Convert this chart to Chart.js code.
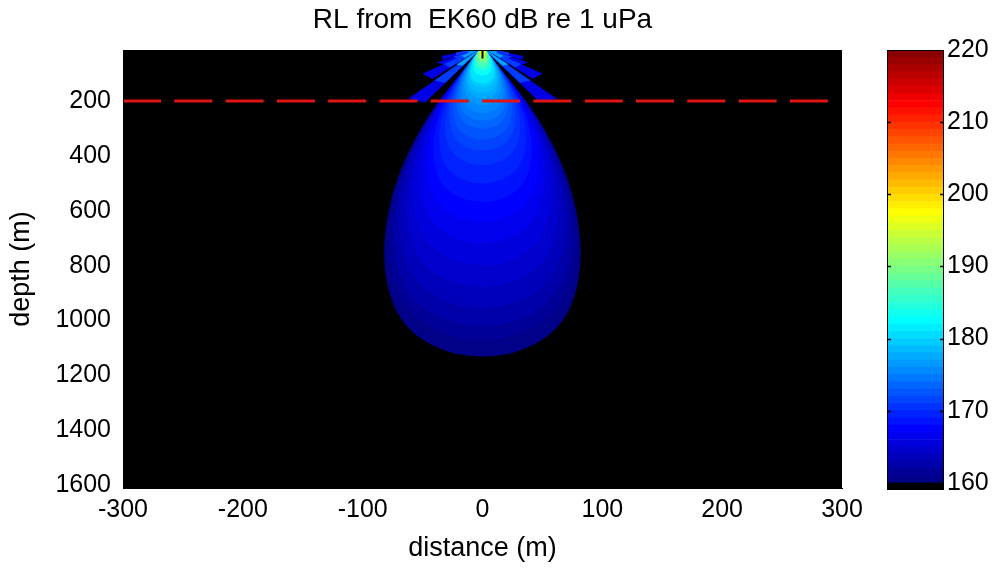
<!DOCTYPE html>
<html>
<head>
<meta charset="utf-8">
<script src="https://cdn.jsdelivr.net/npm/chart.js@4.4.1/dist/chart.umd.min.js"></script>
<style>
  body { margin: 0; background: #fff; }
  #wrap { position: relative; width: 1000px; height: 568px; }
  #main { position: absolute; left: 0; top: 0; }
  #cbar { position: absolute; left: 860px; top: 0; }
</style>
</head>
<body>
<div id="wrap">
  <canvas id="main" width="964" height="568"></canvas>
  <canvas id="cbar" width="140" height="568"></canvas>
</div>
<script>
// tick labels
const xTicks = [-300, -200, -100, 0, 100, 200, 300]
const depthTicks = [200, 400, 600, 800, 1000, 1200, 1400, 1600]
const cbarTicks = [160, 170, 180, 190, 200, 210, 220]

// outline of the main lobe (right half, mirrored for the left)
const lobeX     = [0, 8, 16, 28.5, 39.6, 53.5, 64.7, 73, 78.6, 81.3, 81.9, 80, 76, 70, 61, 49, 34, 18, 0]
const lobeDepth = [0, 50, 110, 160, 220, 318, 415, 512, 609, 694, 767, 852, 920, 978, 1030, 1072, 1104, 1124, 1131]

// RL bands (dB) and how deep each band reaches on the beam axis
const levels     = [160.5, 161.5, 162.5, 163.5, 164.5, 165.5, 166.5, 167.5, 168.5, 169.5, 170.5, 171.5,
    172.5, 173.5, 174.5, 175.5, 176.5, 177.5, 178.5, 179.5, 181, 183, 185, 187, 189, 191.5, 194.5, 198]
const levelDepth = [1131, 1070, 1020, 955, 878, 798, 718, 640, 567, 500, 433, 380,
    340, 300, 271, 243, 214, 190, 170, 150, 136, 107, 88, 73, 60, 50, 37, 28]

// side lobes (right half, mirrored), two far corners of each ray
const sideX1 = [48, 42, 30, 33]
const sideD1 = [205, 120, 72, 50]
const sideX2 = [62, 50, 38, 34]
const sideD2 = [192, 100, 60, 36]
const sideLevels = [166, 171, 177]
const sideReach  = [1, 0.65, 0.35]

const cutDepth = 200
const nearFieldDepth = 45

// colorbar bins
const cbarEdges = [159, 160, 161, 162, 163, 164, 165, 166, 167, 168, 169, 170, 171, 172, 173, 174, 175,
    176, 177, 178, 179, 180, 181, 182, 183, 184, 185, 186, 187, 188, 189, 190, 191, 192, 193, 194,
    195, 196, 197, 198, 199, 200, 201, 202, 203, 204, 205, 206, 207, 208, 209, 210, 211, 212, 213,
    214, 215, 216, 217, 218, 219, 220]

const FONT = "'Liberation Sans', Arial, sans-serif"

function jet(v) {
    const t = Math.min(1, Math.max(0, (v - 160) / 60))
    const c = k => Math.round(255 * Math.min(1, Math.max(0, 1.5 - Math.abs(4 * t - k))))
    return 'rgb(' + c(3) + ',' + c(2) + ',' + c(1) + ')'
}

function polygon(points, color, tension) {
    return {
        data: points,
        backgroundColor: color,
        borderColor: 'transparent',
        borderWidth: 0,
        pointRadius: 0,
        tension: tension,
        fill: 'shape'
    }
}

function lobeShape(depth) {
    const s = depth / lobeDepth[lobeDepth.length - 1]
    let pts = []
    for (let i = 0; i < lobeX.length; i++) pts.push({x: lobeX[i] * s, y: lobeDepth[i] * s})
    for (let i = lobeX.length - 2; i > 0; i--) pts.push({x: -lobeX[i] * s, y: lobeDepth[i] * s})
    return pts
}

function buildDatasets() {
    let list = []
    // side lobes
    sideLevels.forEach((lev, k) => {
        const r = sideReach[k]
        for (let i = 0; i < sideX1.length; i++) {
            [1, -1].forEach(sign => {
                list.push(polygon([
                    {x: 0, y: 5},
                    {x: sign * sideX1[i] * r, y: sideD1[i] * r},
                    {x: sign * sideX2[i] * r, y: sideD2[i] * r}
                ], jet(lev), 0))
            })
        }
    })
    // main lobe, outer band first
    levels.forEach((lev, i) => list.push(polygon(lobeShape(levelDepth[i]), jet(lev), 0.4)))
    // near field
    list.push({data: [{x: 0, y: 0}, {x: 0, y: nearFieldDepth}], borderColor: '#000', borderWidth: 2, pointRadius: 0, fill: false})
    // dashed line
    list.push({data: [{x: -300, y: cutDepth}, {x: 300, y: cutDepth}], borderColor: 'rgb(225,20,20)', borderWidth: 3,
        borderDash: [38, 13.3], pointRadius: 0, fill: false})
    list.forEach((d, i) => d.order = list.length - i)
    return list
}

const blackArea = {
    id: 'blackArea',
    beforeDatasetsDraw(chart) {
        const a = chart.chartArea
        chart.ctx.save()
        chart.ctx.fillStyle = '#000'
        chart.ctx.fillRect(a.left, a.top, a.right - a.left, a.bottom - a.top)
        chart.ctx.restore()
    }
}

const frame = {
    id: 'frame',
    afterDatasetsDraw(chart) {
        const a = chart.chartArea
        chart.ctx.save()
        chart.ctx.strokeStyle = '#000'
        chart.ctx.lineWidth = 1
        chart.ctx.strokeRect(a.left + 0.5, a.top + 0.5, a.right - a.left - 1, a.bottom - a.top - 1)
        chart.ctx.restore()
    }
}

// matlab style ticks on the inside of the colorbar
const innerTicks = {
    id: 'innerTicks',
    afterDatasetsDraw(chart) {
        const a = chart.chartArea
        const ctx = chart.ctx
        ctx.save()
        ctx.strokeStyle = '#000'
        ctx.lineWidth = 1.5
        cbarTicks.slice(1, -1).forEach(v => {
            const y = Math.round(chart.scales.y.getPixelForValue(v)) + 0.5
            ctx.beginPath()
            ctx.moveTo(a.left, y); ctx.lineTo(a.left + 4, y)
            ctx.moveTo(a.right - 4, y); ctx.lineTo(a.right, y)
            ctx.stroke()
        })
        ctx.restore()
    }
}

const plain = v => String(v)

function renderMain() {
    const ctx = document.querySelector('#main').getContext('2d')
    new Chart(ctx, {
        type: 'line',
        data: {datasets: buildDatasets()},
        options: {
            responsive: false,
            animation: false,
            layout: {padding: {left: 0, right: 122, top: 0, bottom: 0}},
            plugins: {
                legend: {display: false},
                tooltip: {enabled: false},
                title: {
                    display: true,
                    fullSize: false,
                    text: 'RL from  EK60 dB re 1 uPa',
                    color: '#000',
                    font: {family: FONT, size: 28, weight: 'normal'},
                    padding: {top: 3, bottom: 13.4}
                }
            },
            scales: {
                x: {
                    type: 'linear',
                    min: -300, max: 300,
                    afterBuildTicks: s => { s.ticks = xTicks.map(v => ({value: v})) },
                    afterFit: s => { s.height = 80 },
                    grid: {display: false, drawTicks: false},
                    border: {display: true, color: '#000'},
                    ticks: {color: '#000', font: {family: FONT, size: 25}, padding: 7, maxRotation: 0, autoSkip: false, callback: plain},
                    title: {display: true, text: 'distance (m)', color: '#000', font: {family: FONT, size: 27}, padding: {top: 0, bottom: 3}}
                },
                y: {
                    type: 'linear',
                    reverse: true,
                    min: 14, max: 1610,
                    afterBuildTicks: s => { s.ticks = depthTicks.map(v => ({value: v})) },
                    afterFit: s => { s.width = 123 },
                    grid: {display: false, drawTicks: false},
                    border: {display: true, color: '#000'},
                    ticks: {color: '#000', font: {family: FONT, size: 25}, padding: 12, autoSkip: false, callback: plain},
                    title: {display: true, text: 'depth (m)', color: '#000', font: {family: FONT, size: 27}, padding: {top: 5, bottom: 0}}
                }
            }
        },
        plugins: [blackArea, frame]
    })
}

function renderColorbar() {
    const ctx = document.querySelector('#cbar').getContext('2d')
    let datasets = []
    for (let i = 0; i < cbarEdges.length - 1; i++) {
        const lo = cbarEdges[i], hi = cbarEdges[i + 1]
        datasets.push({
            data: [[lo, hi]],
            backgroundColor: lo < 160 ? '#000' : jet((lo + hi) / 2),
            borderWidth: 0,
            barPercentage: 1,
            categoryPercentage: 1,
            grouped: false
        })
    }
    new Chart(ctx, {
        type: 'bar',
        data: {labels: ['RL'], datasets: datasets},
        options: {
            responsive: false,
            animation: false,
            layout: {padding: {left: 27, right: 0, top: 50, bottom: 78}},
            plugins: {legend: {display: false}, tooltip: {enabled: false}},
            scales: {
                x: {display: false},
                y: {
                    position: 'right',
                    min: 159, max: 220,
                    afterBuildTicks: s => { s.ticks = cbarTicks.map(v => ({value: v})) },
                    afterFit: s => { s.width = 56 },
                    grid: {display: false, drawTicks: false},
                    border: {display: false},
                    ticks: {color: '#000', font: {family: FONT, size: 25}, padding: 3, autoSkip: false, callback: plain}
                }
            }
        },
        plugins: [frame, innerTicks]
    })
}

renderMain()
renderColorbar()
</script>
</body>
</html>
